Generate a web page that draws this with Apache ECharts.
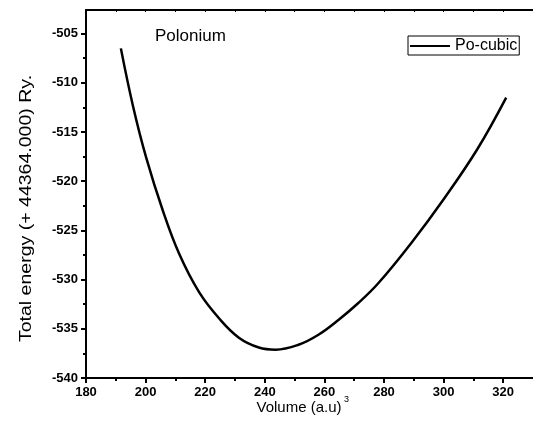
<!DOCTYPE html>
<html>
<head>
<meta charset="utf-8">
<script src="https://cdn.jsdelivr.net/npm/echarts@6/dist/echarts.min.js"></script>
<style>html,body{margin:0;padding:0;background:#fff;}#c{width:533px;height:438px;}</style>
</head>
<body>
<div id="c"></div>
<script>
// Data
const volume = [191.7, 195.8, 200.2, 205.8, 211.3, 218.0, 224.7, 231.3, 238.0, 243.6, 251.3, 258.0, 264.7, 271.3, 278.0, 289.1, 300.2, 311.3, 321.0];
const energy = [-506.5, -512.4, -517.6, -523.0, -527.4, -531.3, -533.95, -535.9, -536.9, -537.12, -536.62, -535.6, -534.1, -532.4, -530.4, -526.3, -521.75, -516.75, -511.5];
const seriesName = 'Po-cubic';
const yTicks = [-540, -535, -530, -525, -520, -515, -510, -505];
const xTicks = [180, 200, 220, 240, 260, 280, 300, 320];

const chart = echarts.init(document.getElementById('c'), null, {renderer: 'canvas'});
const pts = volume.map((v, i) => [v, energy[i]]);
const fontFam = '"Liberation Sans", Arial, sans-serif';
chart.setOption({
  animation: false,
  backgroundColor: '#fff',
  grid: {left: 86, top: 10, width: 450, height: 368, containLabel: false},
  legend: {
    data: [seriesName], left: 408, top: 36, icon: 'rect', itemWidth: 40, itemHeight: 2,
    padding: [2, 2, 1, 2], borderColor: '#000', borderWidth: 1, borderRadius: 0,
    textStyle: {fontFamily: fontFam, fontSize: 16, color: '#000'}
  },
  xAxis: [{
    type: 'value', min: 180, max: 330, interval: 20, position: 'bottom',
    axisLine: {show: true, onZero: false, lineStyle: {color: '#000', width: 2}},
    axisTick: {show: true, inside: false, length: 5, lineStyle: {color: '#000', width: 2}, customValues: xTicks},
    minorTick: {show: true, splitNumber: 2, length: 3, lineStyle: {color: '#000', width: 2}},
    axisLabel: {customValues: xTicks, margin: 8, fontFamily: fontFam, fontWeight: 'bold', fontSize: 13, color: '#000'},
    splitLine: {show: false}
  }, {
    type: 'value', min: 180, max: 330, interval: 10, position: 'top',
    axisLine: {show: true, onZero: false, lineStyle: {color: '#000', width: 2}},
    axisTick: {show: true, inside: true, length: 2, lineStyle: {color: '#000', width: 1}},
    axisLabel: {show: false}, splitLine: {show: false}
  }],
  yAxis: {
    type: 'value', min: -540, max: -502.6, interval: 5,
    axisLine: {show: true, onZero: false, lineStyle: {color: '#000', width: 2}},
    axisTick: {show: true, inside: false, length: 5, lineStyle: {color: '#000', width: 2}, customValues: yTicks},
    minorTick: {show: true, splitNumber: 2, length: 3, lineStyle: {color: '#000', width: 2}},
    axisLabel: {customValues: yTicks, margin: 8, fontFamily: fontFam, fontWeight: 'bold', fontSize: 13, color: '#000'},
    splitLine: {show: false}
  },
  series: [{
    name: seriesName, type: 'line', data: pts, smooth: 0.4, showSymbol: false,
    xAxisIndex: 0,
    lineStyle: {color: '#000', width: 2.5}, itemStyle: {color: '#000'}
  }],
  graphic: [
    {type: 'text', left: 155, top: 28, style: {text: 'Polonium', font: '17px ' + fontFam, fill: '#000'}},
    {type: 'text', x: 26.5, y: 208.5, rotation: Math.PI / 2, scaleX: 1.22,
     style: {text: 'Total energy (+ 44364.000) Ry.', font: '16px ' + fontFam, fill: '#000', align: 'center', verticalAlign: 'middle'}},
    {type: 'text', x: 299, y: 408, style: {text: 'Volume (a.u)', font: '15px ' + fontFam, fill: '#000', align: 'center', verticalAlign: 'middle'}},
    {type: 'text', x: 344, y: 400, style: {text: '3', font: '9px ' + fontFam, fill: '#000', align: 'left', verticalAlign: 'middle'}}
  ]
});
</script>
</body>
</html>
